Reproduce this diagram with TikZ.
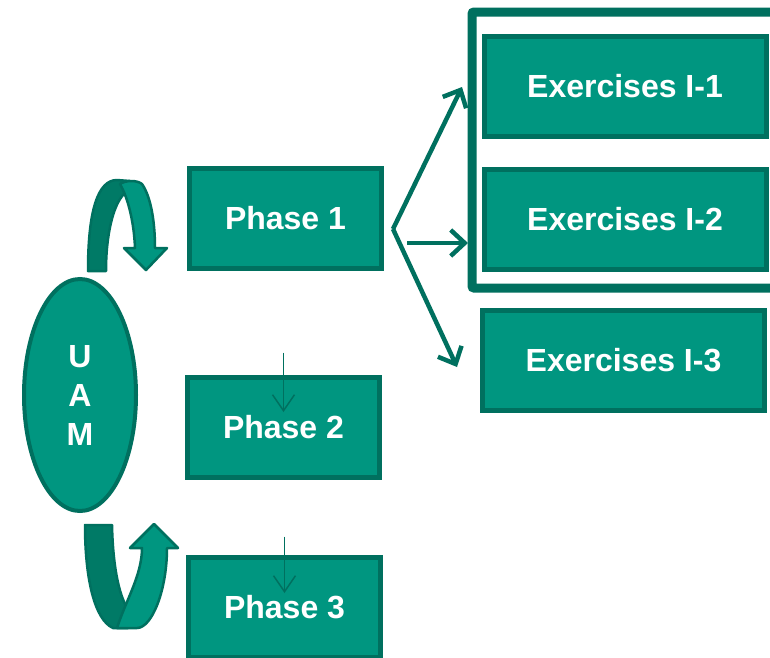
\documentclass[tikz,border=0pt]{standalone}
\usepackage{fontspec}
\setmainfont{Liberation Sans}
\usepackage{tikz}
\usetikzlibrary{arrows.meta}
\usetikzlibrary{shapes.geometric}

\definecolor{uamfill}{RGB}{0,150,128}
\definecolor{uamline}{RGB}{0,112,95}
\definecolor{uamdark}{RGB}{0,122,102}

\begin{document}
\begin{tikzpicture}[x=1pt, y=-1pt,
    phasebox/.style={draw=uamline, line width=5pt, fill=uamfill, text=white,
        minimum width=192pt, minimum height=100pt, inner sep=0pt,
        font=\fontsize{32}{38}\selectfont\bfseries},
    exbox/.style={phasebox, minimum width=282pt},
    forkarrow/.style={draw=uamline, line width=4.5pt,
        -{Straight Barb[length=14pt, width=26pt]}},
    steparrow/.style={draw=uamline, line width=1.5pt,
        -{Straight Barb[length=16pt, width=22pt]}},
    ribbon/.style={draw=uamline, line width=2.5pt, line join=round}]
    \path[use as bounding box, fill=white] (0,0) rectangle (770,657);

    % frame round the first two exercises
    \draw[uamline, line width=9pt, rounded corners=2pt] (472,12) rectangle (800,288);

    \node[phasebox] (p1) at (285.5,218.5) {Phase 1};
    \node[phasebox] (p2) at (283.5,427) {Phase 2};
    \node[phasebox] (p3) at (284.5,607) {Phase 3};
    \node[exbox] (ex1) at (625,86.5) {Exercises I-1};
    \node[exbox] (ex2) at (625,219) {Exercises I-2};
    \node[exbox] (ex3) at (623.5,360) {Exercises I-3};
    \node[ellipse, draw=uamline, line width=4pt, fill=uamfill, text=white,
        minimum width=112pt, minimum height=232pt, inner sep=0pt, align=center,
        font=\fontsize{32}{39}\selectfont\bfseries] (uam) at (80,395) {U\\A\\M};

    % fork out of phase 1
    \coordinate (fork) at (393,229);
    \coordinate (mid) at (407,243);
    \coordinate (e1) at (462,87);
    \coordinate (e2) at (468,243);
    \coordinate (e3) at (457,367);
    \draw[forkarrow] (fork) -- (e1);
    \draw[forkarrow] (mid) -- (e2);
    \draw[forkarrow] (fork) -- (e3);

    \draw[steparrow] ([yshift=22pt]p2.north) -- ([yshift=15pt]p2.center);
    \draw[steparrow] ([yshift=18pt]p3.north) -- ([yshift=14pt]p3.center);

    % curved arrow over the ellipse
    \filldraw[ribbon, fill=uamdark] (88,271) .. controls (88,210) and (98,180) .. (117,180)
        -- (130,181) -- (124,194) .. controls (113,205) and (106,235) .. (106,271) -- cycle;
    \filldraw[ribbon, fill=uamfill] (120,184) .. controls (126,180) and (137,180) .. (142,184)
        .. controls (151,197) and (155,222) .. (155,248) -- (167,248) -- (146,270)
        -- (124,248) -- (135,248) .. controls (134,222) and (128,198) .. (120,184) -- cycle;

    % curved arrow under the ellipse
    \filldraw[ribbon, fill=uamdark] (85,525) -- (112,525) .. controls (113,570) and (120,600) .. (130,612)
        -- (128,628) -- (113,628) .. controls (95,620) and (85,580) .. (85,525) -- cycle;
    \filldraw[ribbon, fill=uamfill] (117,628) .. controls (126,600) and (142,575) .. (142,548)
        -- (130,548) -- (154,524) -- (178,548) -- (167,548)
        .. controls (167,590) and (152,628) .. (137,628) -- cycle;
\end{tikzpicture}
\end{document}
